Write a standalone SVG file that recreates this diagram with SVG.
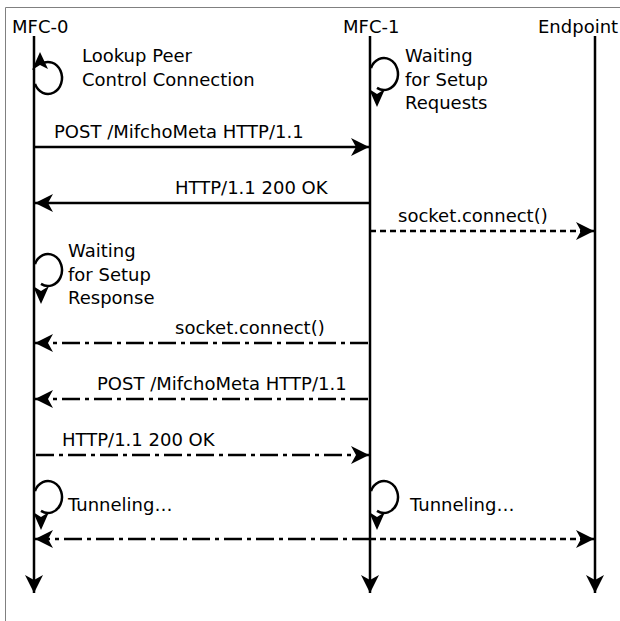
<svg xmlns="http://www.w3.org/2000/svg" width="620" height="621" viewBox="0 0 620 621">
<style>
text{font-family:"DejaVu Sans","Liberation Sans",sans-serif;font-size:18px;fill:#000}
.life{stroke:#000;stroke-width:2.5;fill:none}
.msg{stroke:#000;stroke-width:2.5;fill:none}
.dash{stroke-dasharray:6,4}
.dd{stroke-dasharray:18,5,4,5}
.loop{stroke:#000;stroke-width:2.5;fill:none}
.head{fill:#000}
</style>
<defs>
<marker id="ah" markerUnits="userSpaceOnUse" markerWidth="20" markerHeight="20" viewBox="-20 -10 20 20" refX="0" refY="0" orient="auto">
<path d="M0,0 L-18,-9 L-13,0 L-18,9 Z" fill="#000"/>
</marker>
</defs>
<rect width="620" height="621" fill="#fff"/>
<path d="M5.5,621 V7.5 H620" stroke="#808080" stroke-width="1" fill="none"/>

<g id="mfc0">
<text x="12" y="33">MFC-0</text>
<line class="life" x1="34" y1="36" x2="34" y2="593" marker-end="url(#ah)"/>
</g>
<g id="mfc1">
<text x="343" y="33">MFC-1</text>
<line class="life" x1="370" y1="36" x2="370" y2="593" marker-end="url(#ah)"/>
</g>
<g id="endpoint">
<text x="538" y="33">Endpoint</text>
<line class="life" x1="595" y1="36" x2="595" y2="593" marker-end="url(#ah)"/>
</g>

<g id="loop-lookup">
<path class="loop" d="M35,83.9 A14,16 0 1 0 41,64.1"/>
<polygon class="head" points="40,52 32,70 40,65 48,69"/>
<text x="82" y="62">Lookup Peer</text>
<text x="82" y="86">Control Connection</text>
</g>
<g id="loop-requests">
<path class="loop" d="M371,68.1 A14,16 0 1 1 377,87.9"/>
<polygon class="head" points="377,107 369,89 377,94 385,89"/>
<text x="405" y="62">Waiting</text>
<text x="405" y="86">for Setup</text>
<text x="405" y="109">Requests</text>
</g>
<g id="loop-response">
<path class="loop" d="M35,264.1 A14,16 0 1 1 41,283.9"/>
<polygon class="head" points="41,304 33,286 41,291 49,286"/>
<text x="68" y="257">Waiting</text>
<text x="68" y="281">for Setup</text>
<text x="68" y="304">Response</text>
</g>
<g id="loop-tunnel0">
<path class="loop" d="M35,491.1 A14,16 0 1 1 41,510.9"/>
<polygon class="head" points="41,530 33,512 41,517 49,512"/>
<text x="68" y="511">Tunneling…</text>
</g>
<g id="loop-tunnel1">
<path class="loop" d="M371,491.1 A14,16 0 1 1 377,510.9"/>
<polygon class="head" points="377,530 369,512 377,517 385,512"/>
<text x="410" y="511">Tunneling…</text>
</g>

<g id="connectors">
<line class="msg" x1="34" y1="147" x2="369" y2="147" marker-end="url(#ah)"/>
<line class="msg" x1="370" y1="203" x2="35" y2="203" marker-end="url(#ah)"/>
<line class="msg dash" x1="370" y1="231" x2="594" y2="231" marker-end="url(#ah)"/>
<line class="msg dd" x1="368" y1="343" x2="35" y2="343" marker-end="url(#ah)"/>
<line class="msg dd" x1="368" y1="399" x2="35" y2="399" marker-end="url(#ah)"/>
<line class="msg dd" x1="36" y1="455" x2="369" y2="455" marker-end="url(#ah)"/>
<line class="msg dd" x1="370" y1="539" x2="35" y2="539" marker-end="url(#ah)"/>
<line class="msg dash" x1="370" y1="539" x2="594" y2="539" marker-end="url(#ah)"/>
</g>
<g id="labels">
<text x="54" y="138">POST /MifchoMeta HTTP/1.1</text>
<text x="175" y="194">HTTP/1.1 200 OK</text>
<text x="398" y="222">socket.connect()</text>
<text x="175" y="334">socket.connect()</text>
<text x="97" y="390">POST /MifchoMeta HTTP/1.1</text>
<text x="62" y="446">HTTP/1.1 200 OK</text>
</g>
</svg>
